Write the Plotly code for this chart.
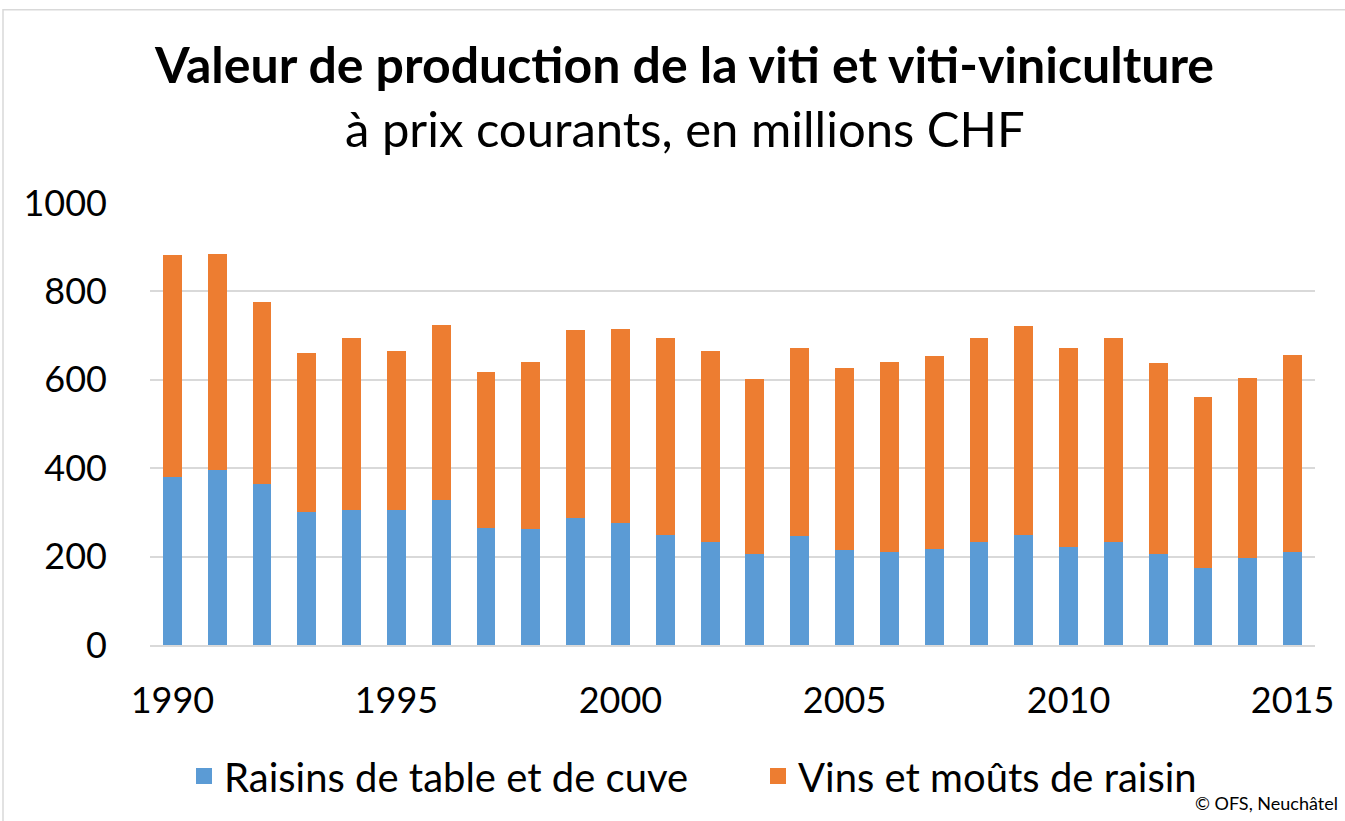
import plotly.graph_objects as go

years = list(range(1990, 2016))
raisins = [380, 396, 365, 300, 305, 305, 327, 264, 262, 288, 277, 250, 234,
           205, 246, 214, 210, 218, 234, 248, 221, 232, 205, 174, 196, 210]
totals = [883, 885, 775, 660, 695, 665, 723, 618, 641, 712, 716, 694, 666,
          601, 672, 626, 641, 653, 694, 721, 672, 694, 639, 560, 603, 655]
vins = [t - r for t, r in zip(totals, raisins)]
tick_years = [1990, 1995, 2000, 2005, 2010, 2015]
y_ticks = [0, 200, 400, 600, 800, 1000]

title = "Valeur de production de la viti et viti-viniculture"
subtitle = "à prix courants, en millions CHF"
name_raisins = "Raisins de table et de cuve"
name_vins = "Vins et moûts de raisin"
source = "© OFS, Neuchâtel"

BLUE = "#5B9BD5"
ORANGE = "#ED7D31"
FONT = "Lato"
W, H = 1345, 821
L, R, T, B = 150, 30, 203, 174

fig = go.Figure()
fig.add_trace(go.Bar(x=years, y=raisins, name=name_raisins, marker_color=BLUE,
                     marker_line_width=0, width=0.42, showlegend=False))
fig.add_trace(go.Bar(x=years, y=vins, name=name_vins, marker_color=ORANGE,
                     marker_line_width=0, width=0.42, showlegend=False))
# legend entries with larger square keys
fig.add_trace(go.Scatter(x=[None], y=[None], mode="markers", name=name_raisins,
                         marker=dict(symbol="square", size=22, color=BLUE)))
fig.add_trace(go.Scatter(x=[None], y=[None], mode="markers", name=name_vins,
                         marker=dict(symbol="square", size=22, color=ORANGE)))

pw = W - L - R
ph = H - T - B

def px2x(px):
    return (px - L) / pw

def py2y(py):
    return (H - B - py) / ph

fig.add_annotation(text="<b>" + title + "</b>", x=px2x(684), y=py2y(63), xref="paper", yref="paper",
                   showarrow=False, font=dict(family=FONT, size=50, color="#000000"),
                   xanchor="center", yanchor="middle")
fig.add_annotation(text=subtitle, x=px2x(685), y=py2y(128), xref="paper", yref="paper",
                   showarrow=False, font=dict(family=FONT, size=49, color="#000000"),
                   xanchor="center", yanchor="middle")
fig.add_annotation(text=source, x=px2x(1340), y=py2y(819), xref="paper", yref="paper",
                   showarrow=False, font=dict(family=FONT, size=18, color="#000000"),
                   xanchor="right", yanchor="bottom")

# chart border
fig.add_shape(type="rect", xref="paper", yref="paper",
              x0=px2x(3), x1=px2x(W + 20), y0=py2y(H + 20), y1=py2y(9),
              line=dict(color="#d9d9d9", width=1.5), fillcolor="rgba(0,0,0,0)", layer="below")

fig.update_layout(
    width=W, height=H,
    margin=dict(l=L, r=R, t=T, b=B, pad=0),
    barmode="stack",
    plot_bgcolor="white", paper_bgcolor="white",
    font=dict(family=FONT, size=36, color="#000000"),
    showlegend=True,
    legend=dict(orientation="h", x=px2x(184), y=py2y(746), xanchor="left", yanchor="top",
                font=dict(family=FONT, size=40), itemwidth=30, traceorder="normal",
                entrywidth=529, entrywidthmode="pixels"),
    xaxis=dict(range=[1989.5, 2015.5], tickmode="array", tickvals=tick_years,
               ticktext=[str(v) for v in tick_years], showgrid=False,
               showline=True, linecolor="#d9d9d9", linewidth=1.5, ticks="",
               ticklabelstandoff=23, tickfont=dict(family=FONT, size=36)),
    yaxis=dict(range=[0, 1000], tickmode="array", tickvals=y_ticks,
               showgrid=True, gridcolor="#d9d9d9", gridwidth=1.5, zeroline=False,
               showline=False, ticks="", ticklabelstandoff=42,
               tickfont=dict(family=FONT, size=36)),
)

fig.write_html("out.html", config={"displayModeBar": False},
               post_script="document.body.style.margin='0px';")
